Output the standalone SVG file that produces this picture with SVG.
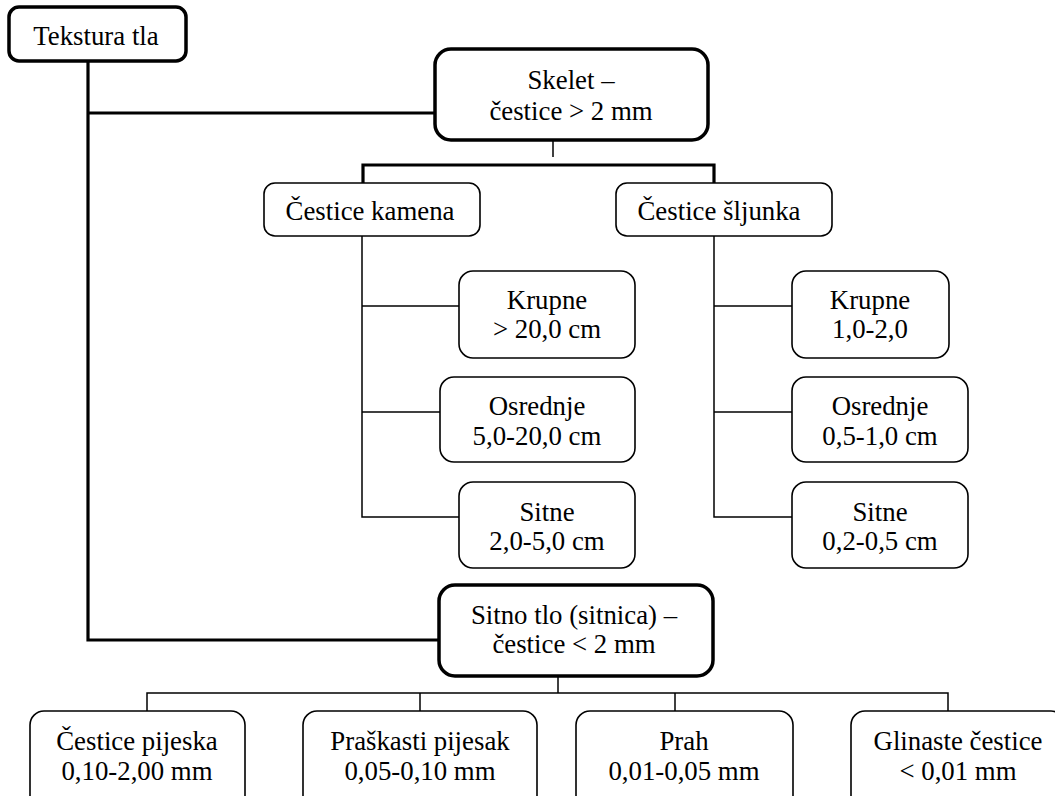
<svg xmlns="http://www.w3.org/2000/svg" width="1055" height="796" viewBox="0 0 1055 796">
<style>
.bg{fill:#fff}
.thick{fill:#fff;stroke:#000;stroke-width:3.5}
.thin{fill:#fff;stroke:#000;stroke-width:1.6}
.lt{fill:none;stroke:#000;stroke-width:3.2}
.ln{fill:none;stroke:#000;stroke-width:1.5}
text{font-family:"Liberation Serif","Times New Roman",serif;font-size:26.8px;fill:#000;text-anchor:middle}
</style>
<rect class="bg" x="0" y="0" width="1055" height="796"/>
<g id="connectors">
<path class="lt" d="M88 61 V640 H439"/>
<path class="lt" d="M88 113 H435"/>
<path class="lt" d="M363 183 V165 H714 V183"/>
<path class="ln" d="M553 140 V157"/>
<path class="ln" d="M362 236 V517 H459"/>
<path class="ln" d="M362 306 H459"/>
<path class="ln" d="M362 412 H440"/>
<path class="ln" d="M714 236 V517 H792"/>
<path class="ln" d="M714 306 H792"/>
<path class="ln" d="M714 412 H792"/>
<path class="ln" d="M558 676 V693"/>
<path class="ln" d="M147 711 V693 H948 V711"/>
<path class="ln" d="M420 693 V711"/>
<path class="ln" d="M675 693 V711"/>
</g>
<g id="tekstura">
<rect class="thick" x="9" y="7" width="177" height="54" rx="10"/>
<text x="96" y="45">Tekstura tla</text>
</g>
<g id="skelet">
<rect class="thick" x="435" y="49" width="273" height="91" rx="16"/>
<text x="571" y="89">Skelet –</text>
<text x="571" y="120">čestice &gt; 2 mm</text>
</g>
<g id="kamen">
<rect class="thin" x="264" y="183" width="216" height="53" rx="11"/>
<text x="370" y="220">Čestice kamena</text>
</g>
<g id="sljunak">
<rect class="thin" x="616" y="183" width="216" height="53" rx="11"/>
<text x="719" y="220">Čestice šljunka</text>
</g>
<g id="k-krupne">
<rect class="thin" x="459" y="271" width="176" height="87" rx="14"/>
<text x="547" y="309">Krupne</text>
<text x="547" y="338">&gt; 20,0 cm</text>
</g>
<g id="k-osrednje">
<rect class="thin" x="440" y="377" width="195" height="85" rx="14"/>
<text x="537" y="415">Osrednje</text>
<text x="537" y="445">5,0-20,0 cm</text>
</g>
<g id="k-sitne">
<rect class="thin" x="459" y="482" width="176" height="86" rx="14"/>
<text x="547" y="521">Sitne</text>
<text x="547" y="550">2,0-5,0 cm</text>
</g>
<g id="s-krupne">
<rect class="thin" x="792" y="271" width="157" height="87" rx="14"/>
<text x="870" y="309">Krupne</text>
<text x="870" y="338">1,0-2,0</text>
</g>
<g id="s-osrednje">
<rect class="thin" x="792" y="377" width="176" height="85" rx="14"/>
<text x="880" y="415">Osrednje</text>
<text x="880" y="445">0,5-1,0 cm</text>
</g>
<g id="s-sitne">
<rect class="thin" x="792" y="482" width="176" height="86" rx="14"/>
<text x="880" y="521">Sitne</text>
<text x="880" y="550">0,2-0,5 cm</text>
</g>
<g id="sitno">
<rect class="thick" x="439" y="585" width="274" height="91" rx="16"/>
<text x="574" y="624">Sitno tlo (sitnica) –</text>
<text x="574" y="653">čestice &lt; 2 mm</text>
</g>
<g id="pijesak">
<rect class="thin" x="30" y="711" width="215" height="100" rx="14"/>
<text x="137" y="750">Čestice pijeska</text>
<text x="137" y="780">0,10-2,00 mm</text>
</g>
<g id="praskasti">
<rect class="thin" x="303" y="711" width="234" height="100" rx="14"/>
<text x="420" y="750">Praškasti pijesak</text>
<text x="420" y="780">0,05-0,10 mm</text>
</g>
<g id="prah">
<rect class="thin" x="576" y="711" width="217" height="100" rx="14"/>
<text x="684" y="750">Prah</text>
<text x="684" y="780">0,01-0,05 mm</text>
</g>
<g id="glina">
<rect class="thin" x="851" y="711" width="214" height="100" rx="14"/>
<text x="958" y="750">Glinaste čestice</text>
<text x="958" y="780">&lt; 0,01 mm</text>
</g>
</svg>
